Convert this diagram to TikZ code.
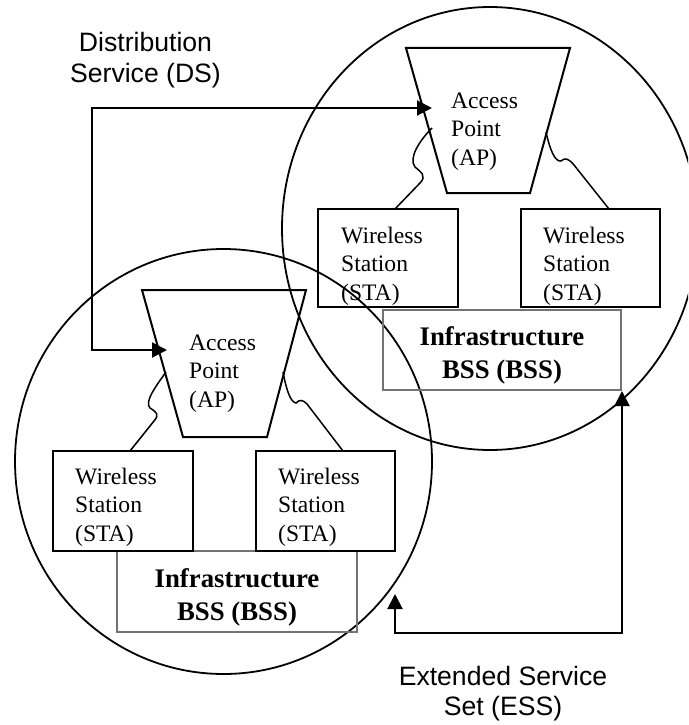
\documentclass[tikz,border=0pt]{standalone}
\usepackage{fontspec}
\setmainfont{Liberation Serif}
\newfontfamily\arialfont{Liberation Sans}
\usetikzlibrary{arrows.meta}
\begin{document}
\begin{tikzpicture}[x=1pt,y=-1pt,
  boxline/.style={line width=2pt},
  stabox/.style={draw, line width=2pt, rectangle, inner sep=0pt},
  infrabox/.style={draw=black!55, line width=1.1pt, rectangle, inner sep=0pt},
  circline/.style={line width=1.8pt},
  wire/.style={line width=1.5pt},
  arr/.style={line width=2pt, >={Triangle[length=15pt,width=15pt]}, <->},
  serif/.style={font=\fontsize{23.6}{28.5}\selectfont, inner sep=0pt, anchor=base west},
  boldlbl/.style={font=\fontsize{26.8}{33.5}\selectfont\bfseries, inner sep=0pt, anchor=base},
  sanslbl/.style={font=\arialfont\fontsize{26.6}{30.5}\selectfont, inner sep=0pt, anchor=base}]
\clip (0,0) rectangle (688,725);

% BSS circles
\draw[circline] (223.5,461.5) ellipse [x radius=208.5, y radius=212.5];
\draw[circline] (490,228.5) ellipse [x radius=208, y radius=221.5];

% Infrastructure boxes
\node[infrabox, minimum width=238pt, minimum height=80pt] (uinfra) at (502,350) {};
\node[infrabox, minimum width=240pt, minimum height=81pt] (linfra) at (237,591.5) {};
\node[boldlbl] (uinfraT) at (502,345) {\begin{tabular}[t]{@{}c@{}}Infrastructure\\BSS (BSS)\end{tabular}};
\node[boldlbl] (linfraT) at (237,587) {\begin{tabular}[t]{@{}c@{}}Infrastructure\\BSS (BSS)\end{tabular}};

% Station boxes
\node[stabox, minimum width=140pt, minimum height=98pt] (ustaL) at (388,258) {};
\node[stabox, minimum width=139pt, minimum height=98pt] (ustaR) at (590.5,258) {};
\node[stabox, minimum width=140pt, minimum height=100pt] (lstaL) at (123,501) {};
\node[stabox, minimum width=139pt, minimum height=100pt] (lstaR) at (325.5,501) {};
\node[serif] (ustaLT) at (341,243) {\begin{tabular}[t]{@{}l@{}}Wireless\\Station\\(STA)\end{tabular}};
\node[serif] (ustaRT) at (543,243) {\begin{tabular}[t]{@{}l@{}}Wireless\\Station\\(STA)\end{tabular}};
\node[serif] (lstaLT) at (75,484) {\begin{tabular}[t]{@{}l@{}}Wireless\\Station\\(STA)\end{tabular}};
\node[serif] (lstaRT) at (278,484) {\begin{tabular}[t]{@{}l@{}}Wireless\\Station\\(STA)\end{tabular}};

% Access points
\coordinate (uap1) at (406,48);
\coordinate (uap2) at (570,48);
\coordinate (uap3) at (530,193);
\coordinate (uap4) at (447,193);
\draw[boxline] (uap1) -- (uap2) -- (uap3) -- (uap4) -- cycle;
\coordinate (lap1) at (142,290);
\coordinate (lap2) at (306,290);
\coordinate (lap3) at (267,437);
\coordinate (lap4) at (183,437);
\draw[boxline] (lap1) -- (lap2) -- (lap3) -- (lap4) -- cycle;
\node[serif] (uapT) at (451,108) {\begin{tabular}[t]{@{}l@{}}Access\\Point\\(AP)\end{tabular}};
\node[serif] (lapT) at (189,350) {\begin{tabular}[t]{@{}l@{}}Access\\Point\\(AP)\end{tabular}};

% wireless links
\coordinate (uwL0) at (432,128);
\coordinate (uwL1) at (395,209);
\coordinate (uwR0) at (546,132);
\coordinate (uwR1) at (609,209);
\coordinate (lwL0) at (166,372);
\coordinate (lwL1) at (130,451);
\coordinate (lwR0) at (283,372);
\coordinate (lwR1) at (343,451);
\draw[wire] (uwL0) .. controls (420,140) and (408,158) .. (415,167)
  .. controls (421,172) and (427,176) .. (420,183) -- (uwL1);
\draw[wire] (uwR0) .. controls (550,150) and (555,162) .. (561,161)
  .. controls (565,157) and (569,159) .. (574,165) -- (uwR1);
\draw[wire] (lwL0) .. controls (156,386) and (144,402) .. (150,408)
  .. controls (156,412) and (160,414) .. (154,421) -- (lwL1);
\draw[wire] (lwR0) .. controls (286,388) and (290,402) .. (296,403)
  .. controls (300,399) and (303,400) .. (307,404) -- (lwR1);

% Distribution service
\coordinate (dsL) at (167,350);
\coordinate (dsC) at (92,108);
\coordinate (dsU) at (432,108);
\draw[arr] (dsL) -| (dsC) -- (dsU);
\node[sanslbl] (dsT) at (145.5,52) {\begin{tabular}[t]{@{}c@{}}Distribution\\Service (DS)\end{tabular}};

% Extended service set
\coordinate (essL) at (395,594);
\coordinate (essC) at (622,633);
\coordinate (essR) at (622,391);
\draw[arr] (essL) |- (essC) -- (essR);
\node[sanslbl] (essT) at (503,685) {\begin{tabular}[t]{@{}c@{}}Extended Service\\Set (ESS)\end{tabular}};
\end{tikzpicture}
\end{document}
